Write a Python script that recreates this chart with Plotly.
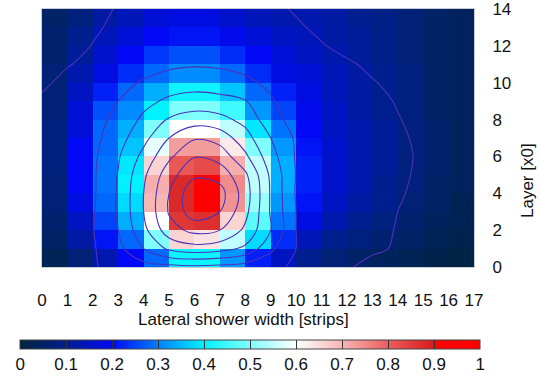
import plotly.graph_objects as go

# ---- data -------------------------------------------------------------
strip_edges = list(range(18))          # 17 strips -> 18 edges (0..17)
layer_edges = list(range(15))          # 14 layers -> 15 edges (0..14)
x_tick_labels = [str(i) for i in range(18)]
y_tick_vals = [0, 2, 4, 6, 8, 10, 12, 14]
cbar_tick_vals = [0, 0.1, 0.2, 0.3, 0.4, 0.5, 0.6, 0.7, 0.8, 0.9, 1.0]

# heatmap intensity: rows = layers 0..13 (bottom->top), columns = strips 0..16
intensity = [
    [0.03, 0.07, 0.13, 0.20, 0.28, 0.41, 0.41, 0.32, 0.22, 0.15, 0.10, 0.07, 0.05, 0.04, 0.03, 0.02, 0.01],
    [0.05, 0.12, 0.21, 0.28, 0.50, 0.66, 0.64, 0.55, 0.38, 0.23, 0.14, 0.10, 0.08, 0.06, 0.05, 0.03, 0.02],
    [0.06, 0.15, 0.25, 0.34, 0.60, 0.86, 0.87, 0.66, 0.47, 0.29, 0.18, 0.13, 0.10, 0.08, 0.06, 0.04, 0.03],
    [0.07, 0.18, 0.28, 0.38, 0.70, 0.88, 0.99, 0.74, 0.52, 0.32, 0.21, 0.15, 0.12, 0.10, 0.07, 0.05, 0.03],
    [0.07, 0.20, 0.29, 0.40, 0.71, 0.88, 0.95, 0.75, 0.55, 0.34, 0.22, 0.16, 0.13, 0.10, 0.08, 0.05, 0.04],
    [0.08, 0.20, 0.29, 0.39, 0.66, 0.81, 0.83, 0.71, 0.55, 0.34, 0.22, 0.16, 0.13, 0.11, 0.08, 0.06, 0.04],
    [0.08, 0.20, 0.28, 0.36, 0.58, 0.73, 0.73, 0.63, 0.50, 0.32, 0.21, 0.16, 0.13, 0.11, 0.08, 0.06, 0.04],
    [0.08, 0.17, 0.28, 0.34, 0.50, 0.60, 0.60, 0.55, 0.39, 0.29, 0.20, 0.15, 0.13, 0.11, 0.08, 0.06, 0.04],
    [0.07, 0.17, 0.26, 0.31, 0.40, 0.50, 0.50, 0.45, 0.32, 0.25, 0.19, 0.15, 0.12, 0.10, 0.08, 0.05, 0.04],
    [0.07, 0.15, 0.22, 0.28, 0.34, 0.41, 0.41, 0.36, 0.28, 0.22, 0.18, 0.14, 0.12, 0.10, 0.08, 0.05, 0.04],
    [0.07, 0.13, 0.18, 0.23, 0.28, 0.31, 0.31, 0.28, 0.23, 0.18, 0.17, 0.14, 0.12, 0.10, 0.08, 0.05, 0.04],
    [0.06, 0.11, 0.16, 0.20, 0.24, 0.26, 0.26, 0.23, 0.20, 0.17, 0.15, 0.13, 0.11, 0.09, 0.07, 0.05, 0.04],
    [0.06, 0.10, 0.14, 0.17, 0.20, 0.21, 0.21, 0.19, 0.17, 0.15, 0.14, 0.12, 0.11, 0.09, 0.07, 0.05, 0.04],
    [0.05, 0.08, 0.12, 0.14, 0.17, 0.18, 0.18, 0.16, 0.14, 0.13, 0.13, 0.12, 0.10, 0.09, 0.07, 0.05, 0.04],
]

# contour overlay values at grid nodes: rows = layer 0..14, columns = strip 0..17
contour_vals = [
    [0.105, 0.12, 0.19, 0.24, 0.26, 0.27, 0.28, 0.27, 0.25, 0.23, 0.18, 0.12, 0.112, 0.065, 0.055, 0.048, 0.04, 0.035],
    [0.11, 0.13, 0.19, 0.27, 0.40, 0.52, 0.56, 0.54, 0.48, 0.32, 0.20, 0.155, 0.13, 0.12, 0.088, 0.07, 0.06, 0.05],
    [0.115, 0.14, 0.195, 0.30, 0.47, 0.66, 0.73, 0.70, 0.58, 0.40, 0.20, 0.16, 0.135, 0.12, 0.096, 0.078, 0.065, 0.055],
    [0.118, 0.14, 0.19, 0.31, 0.50, 0.71, 0.86, 0.80, 0.63, 0.39, 0.20, 0.16, 0.14, 0.125, 0.10, 0.082, 0.07, 0.058],
    [0.115, 0.13, 0.185, 0.31, 0.50, 0.70, 0.88, 0.84, 0.65, 0.39, 0.19, 0.155, 0.135, 0.12, 0.106, 0.086, 0.072, 0.06],
    [0.108, 0.13, 0.185, 0.305, 0.48, 0.66, 0.78, 0.76, 0.62, 0.38, 0.195, 0.155, 0.135, 0.12, 0.11, 0.09, 0.075, 0.062],
    [0.108, 0.13, 0.18, 0.29, 0.43, 0.58, 0.695, 0.66, 0.52, 0.34, 0.19, 0.155, 0.135, 0.122, 0.112, 0.092, 0.077, 0.064],
    [0.108, 0.125, 0.17, 0.26, 0.37, 0.50, 0.59, 0.56, 0.44, 0.30, 0.185, 0.15, 0.132, 0.12, 0.109, 0.089, 0.075, 0.062],
    [0.108, 0.12, 0.16, 0.23, 0.32, 0.41, 0.45, 0.43, 0.37, 0.24, 0.16, 0.14, 0.128, 0.115, 0.103, 0.083, 0.07, 0.06],
    [0.105, 0.118, 0.15, 0.20, 0.27, 0.32, 0.34, 0.33, 0.305, 0.21, 0.15, 0.135, 0.125, 0.116, 0.096, 0.08, 0.068, 0.058],
    [0.094, 0.109, 0.14, 0.17, 0.21, 0.245, 0.26, 0.25, 0.22, 0.18, 0.14, 0.125, 0.115, 0.104, 0.084, 0.072, 0.062, 0.055],
    [0.085, 0.098, 0.108, 0.13, 0.16, 0.18, 0.19, 0.185, 0.17, 0.15, 0.13, 0.12, 0.108, 0.088, 0.076, 0.066, 0.058, 0.052],
    [0.075, 0.085, 0.1015, 0.115, 0.13, 0.145, 0.15, 0.148, 0.14, 0.13, 0.118, 0.104, 0.084, 0.074, 0.066, 0.06, 0.054, 0.05],
    [0.07, 0.08, 0.094, 0.109, 0.118, 0.128, 0.132, 0.13, 0.125, 0.118, 0.108, 0.088, 0.076, 0.068, 0.062, 0.056, 0.052, 0.048],
    [0.065, 0.075, 0.088, 0.103, 0.112, 0.12, 0.122, 0.12, 0.117, 0.114, 0.094, 0.08, 0.07, 0.064, 0.058, 0.054, 0.05, 0.046],
]

# ---- style ------------------------------------------------------------
FONT = "Liberation Sans, Arial, sans-serif"
FS = 17
colorscale = [
    [0.0, "#00243c"], [0.1, "#001f8f"], [0.2, "#0008f5"], [0.3, "#0080ff"],
    [0.4, "#00f2ff"], [0.5, "#80ffff"], [0.6, "#ffffff"], [0.7, "#f6b6b6"],
    [0.8, "#ec5e5e"], [0.895, "#d81e1e"], [0.9, "#fa0404"], [1.0, "#ff0000"],
]

fig = go.Figure()
fig.add_trace(go.Heatmap(
    z=intensity, x=strip_edges, y=layer_edges,
    zmin=0, zmax=1, colorscale=colorscale,
    colorbar=dict(
        orientation="h", x=0.4819, xanchor="center", y=-0.283, yanchor="top",
        len=460, lenmode="pixels", thickness=9, xpad=0, ypad=0,
        outlinewidth=1, outlinecolor="#444",
        tickmode="array", tickvals=cbar_tick_vals,
        ticks="inside", ticklen=9, tickwidth=1, tickcolor="#333",
        tickfont=dict(family=FONT, size=FS, color="#111"),
    ),
    hoverinfo="skip",
))
fig.add_trace(go.Contour(
    z=contour_vals, x=strip_edges, y=layer_edges,
    contours=dict(coloring="none", start=0.1, end=0.8, size=0.1),
    line=dict(color="#4a32b8", width=1.1, smoothing=1.0),
    showscale=False, hoverinfo="skip",
))

fig.update_layout(
    width=540, height=382,
    margin=dict(l=42, r=66, t=9, b=115, autoexpand=False),
    paper_bgcolor="white", plot_bgcolor="white",
    font=dict(family=FONT, size=FS, color="#111"),
    showlegend=False,
    xaxis=dict(range=[0, 17], tickmode="array", tickvals=strip_edges, ticktext=x_tick_labels,
               ticks="", showgrid=False, zeroline=False, ticklabelstandoff=18,
               showline=True, linecolor="#c8ccd4", mirror=True, automargin=False,
               ticklabeloverflow="allow",
               tickfont=dict(family=FONT, size=FS)),
    yaxis=dict(range=[0, 14], side="right", tickmode="array", tickvals=y_tick_vals,
               ticks="", showgrid=False, zeroline=False, ticklabelstandoff=14,
               showline=True, linecolor="#c8ccd4", mirror=True, automargin=False,
               ticklabeloverflow="allow",
               tickfont=dict(family=FONT, size=FS)),
    annotations=[
        dict(text="Lateral shower width [strips]", xref="paper", yref="paper",
             x=0.4657, y=-0.205, xanchor="center", yanchor="middle", showarrow=False,
             font=dict(family=FONT, size=FS)),
        dict(text="Layer [x0]", xref="paper", yref="paper", textangle=-90,
             x=1.1226, y=0.337, xanchor="center", yanchor="middle", showarrow=False,
             font=dict(family=FONT, size=FS)),
    ],
)

# remove the browser's default 8px page margin so the figure sits at the window origin
fig.write_html("out.html", config={"displayModeBar": False},
               post_script="document.body.style.margin='0px';")
